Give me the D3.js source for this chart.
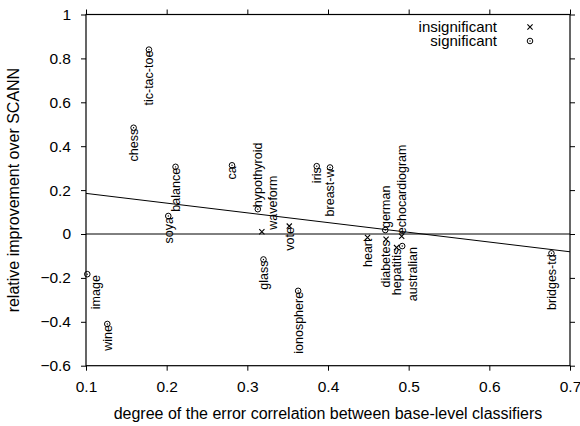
<!DOCTYPE html>
<html><head><meta charset="utf-8">
<script src="https://cdn.jsdelivr.net/npm/d3@7"></script>
<style>
body{margin:0;background:#fff;}
svg{display:block;font-family:"Liberation Sans",Arial,Helvetica,sans-serif;}
</style></head>
<body><svg id="c" width="580" height="426"></svg>
<script>
// ---- data ----
const names = ["tic-tac-toe","chess","balance","ca","iris","breast-w","hypothyroid","soya","waveform","vote","glass","image","wine","ionosphere","heart","german","diabetes","echocardiogram","hepatitis","australian","bridges-td"];
const xValues = [0.178,0.159,0.211,0.281,0.386,0.4025,0.313,0.202,0.318,0.352,0.320,0.1016,0.1264,0.363,0.449,0.471,0.472,0.4913,0.485,0.492,0.677];
const yValues = [0.84,0.484,0.306,0.313,0.309,0.303,0.113,0.082,0.010,0.036,-0.116,-0.183,-0.410,-0.259,-0.016,0.018,-0.024,-0.010,-0.062,-0.055,-0.088];
const significant = [1,1,1,1,1,1,1,1,0,0,1,1,1,1,0,1,0,0,0,1,1];
const fitX = [0.1,0.7];
const fitY = [0.185,-0.081];
const xTicks = [0.1,0.2,0.3,0.4,0.5,0.6,0.7];
const yTicks = [-0.6,-0.4,-0.2,0,0.2,0.4,0.6,0.8,1];
const legendLabels = ["insignificant","significant"];
const xTitle = "degree of the error correlation between base-level classifiers";
const yTitle = "relative improvement over SCANN";

// label placement (layout only)
const labelAnchorStart = new Set(["hypothyroid","waveform","german","echocardiogram"]);
const labelNudge = {"image":8,"waveform":11,"australian":10};

// ---- layout ----
const svg = d3.select("#c");
const L=86, T=14.5, R=570, B=365.7;
const x = d3.scaleLinear().domain([0.1,0.7]).range([L,R]);
const y = d3.scaleLinear().domain([-0.6,1]).range([B,T]);
const fmt = d => d===0 ? "0" : (d===1 ? "1" : d3.format(".1f")(d));

const tl=5;
const gx = svg.append("g").attr("transform",`translate(0,${B})`)
  .call(d3.axisBottom(x).tickValues(xTicks).tickFormat(fmt).tickSize(tl).tickPadding(10));
const gxt = svg.append("g").attr("transform",`translate(0,${T})`)
  .call(d3.axisTop(x).tickValues(xTicks).tickFormat("").tickSize(tl));
const gy = svg.append("g").attr("transform",`translate(${L},0)`)
  .call(d3.axisLeft(y).tickValues(yTicks).tickFormat(fmt).tickSize(tl).tickPadding(10));
const gyr = svg.append("g").attr("transform",`translate(${R},0)`)
  .call(d3.axisRight(y).tickValues(yTicks).tickFormat("").tickSize(tl));
[gx,gxt,gy,gyr].forEach(g=>{
  g.select(".domain").remove();
  g.selectAll("line").attr("stroke","#000").attr("stroke-width",1);
  g.selectAll("text").attr("fill","#000").attr("font-size",15.5).attr("font-family","Liberation Sans, Arial, sans-serif");
});
svg.append("rect").attr("x",L).attr("y",T).attr("width",R-L).attr("height",B-T)
  .attr("fill","none").attr("stroke","#000").attr("stroke-width",1.2);

// zero axis
svg.append("line").attr("x1",L).attr("x2",R).attr("y1",y(0)).attr("y2",y(0)).attr("stroke","#000").attr("stroke-width",1);
// fit line
svg.append("line").attr("x1",x(fitX[0])).attr("y1",y(fitY[0])).attr("x2",x(fitX[1])).attr("y2",y(fitY[1]))
  .attr("stroke","#000").attr("stroke-width",1);

// titles
svg.append("text").attr("x",(L+R)/2).attr("y",419).attr("text-anchor","middle").attr("font-size",16).text(xTitle);
svg.append("text").attr("transform",`translate(19,${(T+B)/2}) rotate(-90)`).attr("text-anchor","middle").attr("font-size",16).text(yTitle);

// markers
function cross(g,cx,cy){
  const s=2.6;
  g.append("path").attr("d",`M${cx-s},${cy-s}L${cx+s},${cy+s}M${cx-s},${cy+s}L${cx+s},${cy-s}`).attr("stroke","#000").attr("stroke-width",1.1).attr("fill","none");
}
function circ(g,cx,cy){
  g.append("circle").attr("cx",cx).attr("cy",cy).attr("r",2.8).attr("fill","none").attr("stroke","#000").attr("stroke-width",1);
  g.append("circle").attr("cx",cx).attr("cy",cy).attr("r",0.7).attr("fill","#000");
}
const data = names.map((n,i)=>({name:n,x:xValues[i],y:yValues[i],sig:significant[i]}));
const pg = svg.append("g");
data.forEach(d=>{
  const cx=x(d.x), cy=y(d.y);
  if(d.sig) circ(pg,cx,cy); else cross(pg,cx,cy);
  const start = labelAnchorStart.has(d.name);
  const nx = cx + (labelNudge[d.name]||0);
  const ny = start ? cy - 2 : cy + 1;
  pg.append("text").attr("transform",`translate(${nx},${ny}) rotate(-90)`)
    .attr("text-anchor",start?"start":"end").attr("dy","0.35em")
    .attr("font-size",12.5).text(d.name);
});

// legend
const lg = svg.append("g");
legendLabels.forEach((t,i)=>{
  const ly = 27 + i*14;
  lg.append("text").attr("x",497).attr("y",ly).attr("dy","0.35em").attr("text-anchor","end").attr("font-size",15).text(t);
  if(i===0) cross(lg,530,ly); else circ(lg,530,ly);
});
</script></body></html>
